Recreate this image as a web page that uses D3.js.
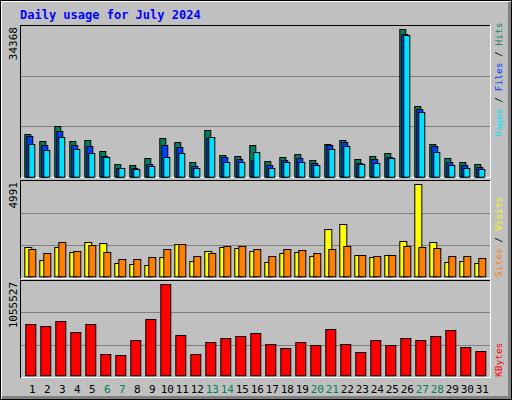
<!DOCTYPE html>
<html>
<head>
<meta charset="UTF-8">
<style>
  body{margin:0;background:#fff;}
  text{font-family:"DejaVu Sans Mono",monospace;}
</style>
</head>
<body>
<svg id="chart" width="512" height="400"></svg>
<script src="https://cdn.jsdelivr.net/npm/d3@7"></script>
<script>
  "use strict";

  var days = d3.range(1, 32);
  var weekend = [6,7,13,14,20,21,27,28];
  var hits = [9874,8242,11740,8242,8475,5909,2877,2644,4276,8941,8008,3343,10807,4976,4743,7309,3577,4510,5209,3810,7542,8475,4043,4743,5443,34368,16405,7542,4276,3343,2877];
  var files = [9408,7309,10574,7309,7075,4743,1944,1944,2877,7309,6842,2410,8941,4510,4043,3810,2644,3810,4276,3110,7309,8008,3110,4043,4510,33199,15706,7075,3343,2644,2177];
  var pages = [7542,6142,9174,6376,5443,4510,1944,1711,2410,4510,5443,1944,9174,3343,3343,5676,1944,3343,3343,2644,6376,7075,2877,3110,4276,32966,15006,5676,2644,1944,1711];
  var visits = [1591,886,1591,1320,1862,1808,723,669,615,1049,1754,832,1374,1591,1537,1374,777,1266,1320,1103,2567,2839,1157,1049,1157,1916,4991,1862,777,832,723];
  var sites = [1483,1266,1862,1374,1700,1320,940,940,1049,1483,1754,1103,1266,1645,1645,1483,1103,1483,1428,1266,1483,1645,1157,1103,1157,1645,1591,1537,1103,1103,994];
  var kbytes = [591498,568302,626292,498714,591498,243558,231960,405930,649488,1055527,463920,243558,382734,429126,452322,487116,359538,313146,382734,347940,533508,359538,266754,405930,347940,429126,405930,452322,521910,324744,278352];

  var svg = d3.select("#chart");
  // frame
  svg.append("rect").attr("x",0).attr("y",0).attr("width",512).attr("height",400).attr("fill","#000");
  svg.append("rect").attr("x",1).attr("y",1).attr("width",510).attr("height",398).attr("fill","#fff");
  svg.append("rect").attr("x",2).attr("y",2).attr("width",509).attr("height",397).attr("fill","#808080");
  svg.append("rect").attr("x",2).attr("y",2).attr("width",506).attr("height",394).attr("fill","#c0c0c0");

  svg.append("text").attr("x",20).attr("y",19).attr("fill","#0000ff")
    .attr("font-size",12).attr("font-weight","bold").text("Daily usage for July 2024");

  var x = d3.scaleBand().domain(days).range([24.3, 489.3]).padding(0);

  function panel(top, bottom, base, maxY, maxVal){
    svg.append("rect").attr("x",20.5).attr("y",top+0.5).attr("width",470).attr("height",bottom-top)
      .attr("fill","#c0c0c0").attr("stroke","#000");
    svg.append("line").attr("x1",21).attr("x2",491).attr("y1",bottom+0.5).attr("y2",bottom+0.5).attr("stroke","#fff");
    svg.append("line").attr("x1",490.5).attr("x2",490.5).attr("y1",top).attr("y2",bottom+1).attr("stroke","#fff");
    var h = bottom - top;
    [1,2].forEach(function(k){
      var gy = Math.round(top + h*k/3) + 0.5;
      svg.append("line").attr("x1",21).attr("x2",490).attr("y1",gy).attr("y2",gy).attr("stroke","#808080").attr("stroke-width",1);
    });
    var y = d3.scaleLinear().domain([0, maxVal]).range([base, maxY]);
    svg.append("text").attr("transform","translate(17,"+(top+2)+") rotate(-90)")
      .attr("text-anchor","end").attr("font-size",11).attr("fill","#000").text(maxVal);
    return y;
  }

  function bars(y, data, color, off, w){
    svg.append("g").selectAll("rect").data(data).enter().append("rect")
      .attr("x", function(d,i){ return x(days[i]) + off + 0.5; })
      .attr("y", function(d){ return Math.round(y(d)) + 0.5; })
      .attr("width", w)
      .attr("height", function(d){ return y(0) - Math.round(y(d)); })
      .attr("fill", color).attr("stroke","#000");
  }

  var y1 = panel(25, 177, 176.7, 29.3, d3.max(hits));
  bars(y1, hits, "#00805c", 0, 6);
  bars(y1, files, "#0040ff", 2, 6);
  bars(y1, pages, "#00e0ff", 4, 6);

  var y2 = panel(180, 278, 276.3, 184.3, d3.max(visits));
  bars(y2, visits, "#ffff00", 0, 7);
  bars(y2, sites, "#ff8000", 4, 7);

  var y3 = panel(280, 377, 375.3, 284.3, d3.max(kbytes));
  bars(y3, kbytes, "#ff0000", 1, 10);

  // right legends
  function legend(cx, yb, parts){
    var t = svg.append("text").attr("transform","translate("+cx+","+yb+") rotate(-90)")
      .attr("font-size",9.5).attr("textLength", null);
    parts.forEach(function(p){ t.append("tspan").attr("fill",p[1]).text(p[0]); });
  }
  legend(502, 137, [["Pages","#00e0ff"],[" / ","#000"],["Files","#0040ff"],[" / ","#000"],["Hits","#00805c"]]);
  legend(502, 277, [["Sites","#ff8000"],[" / ","#000"],["Visits","#ffff00"]]);
  legend(502, 377, [["KBytes","#ff0000"]]);

  svg.append("g").selectAll("text").data(days).enter().append("text")
    .attr("x", function(d){ return x(d) + 8; })
    .attr("y", 393).attr("text-anchor","middle").attr("font-size",11)
    .attr("fill", function(d){ return weekend.indexOf(d) >= 0 ? "#00805c" : "#000"; })
    .text(function(d){ return d; });
</script>
</body>
</html>
